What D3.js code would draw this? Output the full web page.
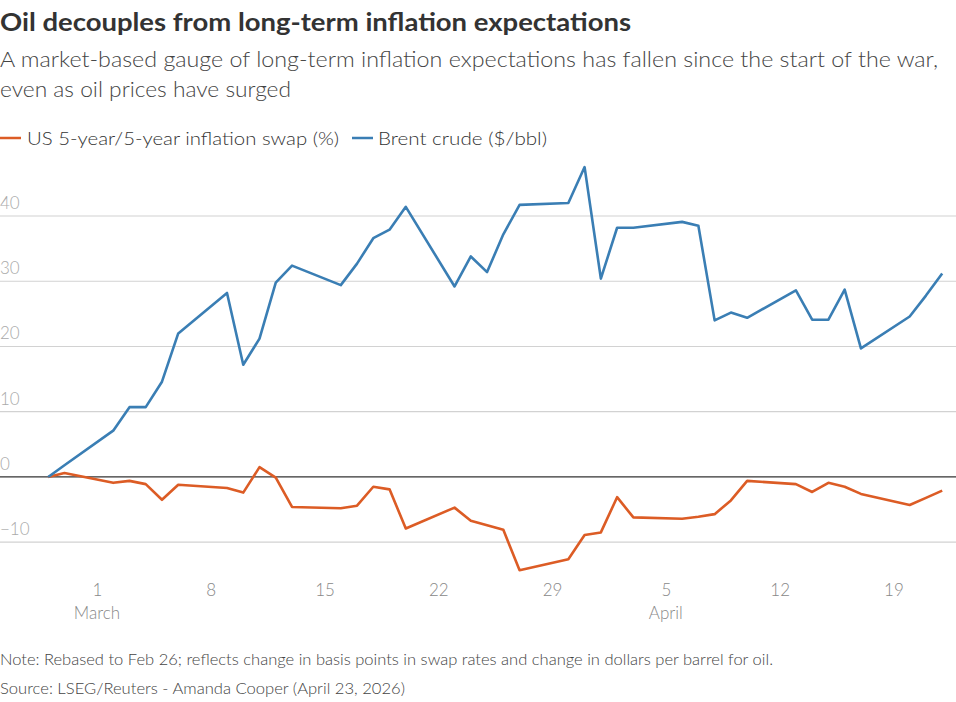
<!DOCTYPE html>
<html>
<head>
<meta charset="utf-8">
<script src="https://cdn.jsdelivr.net/npm/d3@7"></script>
<style>
  html, body { margin: 0; padding: 0; background: #fff; }
  svg { display: block; font-family: Lato, "Open Sans", sans-serif; }
</style>
</head>
<body>
<svg id="chart" width="956" height="702"></svg>
<script>
const dates = ["2026-02-26","2026-02-27","2026-03-02","2026-03-03","2026-03-04","2026-03-05","2026-03-06",
  "2026-03-09","2026-03-10","2026-03-11","2026-03-12","2026-03-13",
  "2026-03-16","2026-03-17","2026-03-18","2026-03-19","2026-03-20",
  "2026-03-23","2026-03-24","2026-03-25","2026-03-26","2026-03-27",
  "2026-03-30","2026-03-31","2026-04-01","2026-04-02","2026-04-03",
  "2026-04-06","2026-04-07","2026-04-08","2026-04-09","2026-04-10",
  "2026-04-13","2026-04-14","2026-04-15","2026-04-16","2026-04-17",
  "2026-04-20","2026-04-21","2026-04-22"];
const brent = [0, 1.8, 7.1, 10.7, 10.7, 14.6, 22.0,
  28.2, 17.2, 21.2, 29.8, 32.4,
  29.4, 32.7, 36.6, 37.9, 41.4,
  29.2, 33.8, 31.4, 37.2, 41.7,
  42.0, 47.5, 30.4, 38.2, 38.2,
  39.1, 38.5, 24.0, 25.2, 24.4,
  28.6, 24.1, 24.1, 28.7, 19.7,
  24.6, 27.8, 31.2];
const swap = [0, 0.6, -0.9, -0.6, -1.1, -3.5, -1.2,
  -1.7, -2.4, 1.5, -0.1, -4.6,
  -4.8, -4.4, -1.5, -1.9, -7.9,
  -4.7, -6.7, -7.4, -8.1, -14.3,
  -12.6, -8.9, -8.5, -3.1, -6.2,
  -6.4, -6.1, -5.7, -3.6, -0.6,
  -1.1, -2.3, -0.9, -1.5, -2.6,
  -4.3, -3.2, -2.1];
const yTicks = [-10, 0, 10, 20, 30, 40];
const xTickDates = ["2026-03-01","2026-03-08","2026-03-15","2026-03-22","2026-03-29","2026-04-05","2026-04-12","2026-04-19"];
const monthLabels = [["2026-03-01","March"],["2026-04-05","April"]];
const seriesNames = ["US 5-year/5-year inflation swap (%)", "Brent crude ($/bbl)"];
const colors = ["#dc5c25", "#3a7eb4"];

const parse = d3.timeParse("%Y-%m-%d");
const svg = d3.select("#chart");

const x = d3.scaleTime().domain([parse("2026-02-26"), parse("2026-04-22")]).range([48.2, 942.2]);
const y = d3.scaleLinear().domain([-10, 40]).range([542.2, 216]);

// Title & subtitle
svg.append("text").attr("x", 0).attr("y", 31).attr("font-size", 24).attr("font-weight", 700)
  .attr("fill", "#333").attr("textLength", 631).attr("lengthAdjust", "spacingAndGlyphs")
  .text("Oil decouples from long-term inflation expectations");
svg.append("text").attr("x", 0).attr("y", 67).attr("font-size", 21).attr("font-weight", 300)
  .attr("fill", "#444").attr("textLength", 938).attr("lengthAdjust", "spacingAndGlyphs")
  .text("A market-based gauge of long-term inflation expectations has fallen since the start of the war,");
svg.append("text").attr("x", 0).attr("y", 97).attr("font-size", 21).attr("font-weight", 300)
  .attr("fill", "#444").attr("textLength", 291).attr("lengthAdjust", "spacingAndGlyphs")
  .text("even as oil prices have surged");

// Legend
const leg = [{x0: 0, tx: 27, w: 312}, {x0: 352, tx: 378, w: 169}];
leg.forEach((l, i) => {
  svg.append("line").attr("x1", l.x0).attr("x2", l.x0 + 21).attr("y1", 138).attr("y2", 138)
    .attr("stroke", colors[i]).attr("stroke-width", 2.5);
  svg.append("text").attr("x", l.tx).attr("y", 145).attr("font-size", 18).attr("font-weight", 300)
    .attr("fill", "#333").attr("textLength", l.w).attr("lengthAdjust", "spacingAndGlyphs")
    .text(seriesNames[i]);
});

// Gridlines and y labels
const grid = svg.append("g");
yTicks.forEach(t => {
  grid.append("line").attr("x1", 0).attr("x2", 956).attr("y1", y(t)).attr("y2", y(t))
    .attr("stroke", t === 0 ? "#333" : "#d2d2d2").attr("stroke-width", 1.2);
  grid.append("text").attr("x", 0).attr("y", y(t) - 7).attr("font-size", 17).attr("font-weight", 300)
    .attr("fill", "#aaa").text(t < 0 ? "\u2212" + Math.abs(t) : t);
});

// X axis
const xAxis = d3.axisBottom(x).tickValues(xTickDates.map(parse)).tickFormat(d3.timeFormat("%-d")).tickSize(0);
const gx = svg.append("g").attr("transform", "translate(0,580)").call(xAxis);
gx.select(".domain").remove();
gx.selectAll("text").attr("font-family", "Lato, 'Open Sans', sans-serif").attr("font-size", 17)
  .attr("font-weight", 300).attr("fill", "#888").attr("dy", 0).attr("y", 16);
monthLabels.forEach(m => {
  svg.append("text").attr("x", x(parse(m[0]))).attr("y", 619).attr("text-anchor", "middle")
    .attr("font-size", 17).attr("font-weight", 300).attr("fill", "#888").text(m[1]);
});

// Lines
const line = d3.line().x(d => x(d[0])).y(d => y(d[1]));
[swap, brent].forEach((s, i) => {
  svg.append("path").datum(dates.map((d, j) => [parse(d), s[j]]))
    .attr("d", line).attr("fill", "none").attr("stroke", colors[i])
    .attr("stroke-width", 2.6).attr("stroke-linejoin", "round");
});

// Notes
svg.append("text").attr("x", 0).attr("y", 665).attr("font-size", 15).attr("font-weight", 300)
  .attr("fill", "#444").attr("textLength", 773).attr("lengthAdjust", "spacingAndGlyphs")
  .text("Note: Rebased to Feb 26; reflects change in basis points in swap rates and change in dollars per barrel for oil.");
svg.append("text").attr("x", 0).attr("y", 694).attr("font-size", 15).attr("font-weight", 300)
  .attr("fill", "#444").attr("textLength", 405).attr("lengthAdjust", "spacingAndGlyphs")
  .text("Source: LSEG/Reuters - Amanda Cooper (April 23, 2026)");
</script>
</body>
</html>
